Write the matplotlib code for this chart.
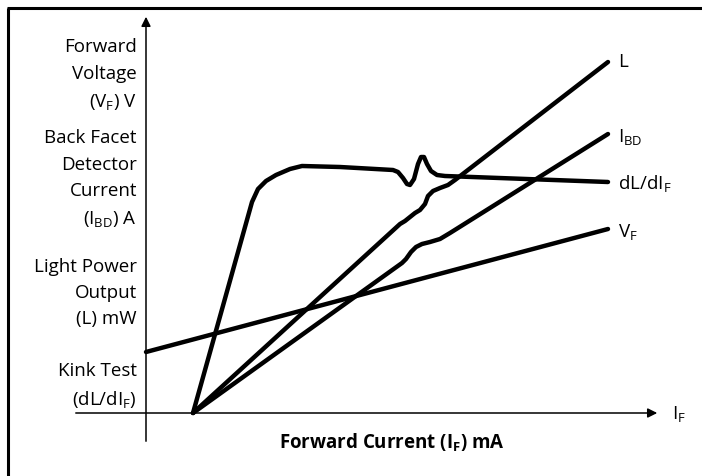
import numpy as np
import matplotlib
matplotlib.use('Agg')
import matplotlib.pyplot as plt

# -------------------- Data (schematic) --------------------
# x: distance right of the vertical axis, y: height above the horizontal axis
l_x = [47, 254, 259, 269, 274, 279, 282, 287, 294, 302, 309, 462]
l_y = [0, 189, 192, 200, 203, 209, 217, 222, 225, 228, 233, 351]

ibd_x = [47, 256, 260, 265, 270, 276, 284, 294, 304, 462]
ibd_y = [0, 150, 154, 161, 166, 169, 171, 174, 180, 279]

dl_x = [47, 106, 112, 120, 130, 144, 156, 194, 247, 252, 257, 261, 264, 268, 272, 275, 278, 281, 285, 291, 299, 462]
dl_y = [0, 211, 224, 232, 238, 244, 247, 246, 243, 241, 235, 229, 228, 234, 249, 256, 256, 249, 242, 238, 237, 231]

vf_x = [0, 462]
vf_y = [61, 184]

curve_labels = ['L', 'I$_{BD}$', 'dL/dI$_F$', 'V$_F$']
label_y = [352, 277, 230, 182]

axis_labels = ['Forward\nVoltage\n(V$_F$) V',
               'Back Facet\nDetector\nCurrent\n(I$_{BD}$) A',
               'Light Power\nOutput\n(L) mW',
               'Kink Test\n(dL/dI$_F$)']
axis_label_y = [339, 235, 121, 28]

# -------------------- Style --------------------
plt.rcParams['font.family'] = ['Open Sans', 'DejaVu Sans']
plt.rcParams['mathtext.default'] = 'regular'
fs = 13.5
lw = 3.2

fig = plt.figure(figsize=(7.02, 4.77), dpi=100)
ax = fig.add_axes([0, 0, 1, 1])
ax.set_xlim(-146, 556)
ax.set_ylim(-63, 414)
ax.axis('off')

# frame (top and left only)
ax.plot([-139, 556], [405, 405], color='black', lw=2.2, solid_capstyle='butt')
ax.plot([-138, -138], [405, -63], color='black', lw=2.2, solid_capstyle='butt')

# axes with arrows
ax.annotate('', xy=(0, 399), xytext=(0, -31),
            arrowprops=dict(arrowstyle='-|>', lw=1.1, color='black', mutation_scale=14))
ax.annotate('', xy=(514, 0), xytext=(-73, 0),
            arrowprops=dict(arrowstyle='-|>', lw=1.1, color='black', mutation_scale=14))

# curves
for xs, ys in [(l_x, l_y), (ibd_x, ibd_y), (dl_x, dl_y), (vf_x, vf_y)]:
    ax.plot(xs, ys, color='black', lw=lw, solid_joinstyle='round', solid_capstyle='round')

# curve labels
for lab, yy in zip(curve_labels, label_y):
    ax.text(472, yy, lab, fontsize=fs, ha='left', va='center')

ax.text(526, 0, 'I$_F$', fontsize=fs, ha='left', va='center')

# y-axis labels
for lab, yy in zip(axis_labels, axis_label_y):
    ax.text(-9, yy, lab, fontsize=fs, ha='right', va='center', multialignment='right',
            linespacing=1.6)

ax.text(246, -29, 'Forward Current (I$_F$) mA', fontsize=fs, fontweight='bold',
        ha='center', va='center')

fig.savefig('out.png', dpi=100)
